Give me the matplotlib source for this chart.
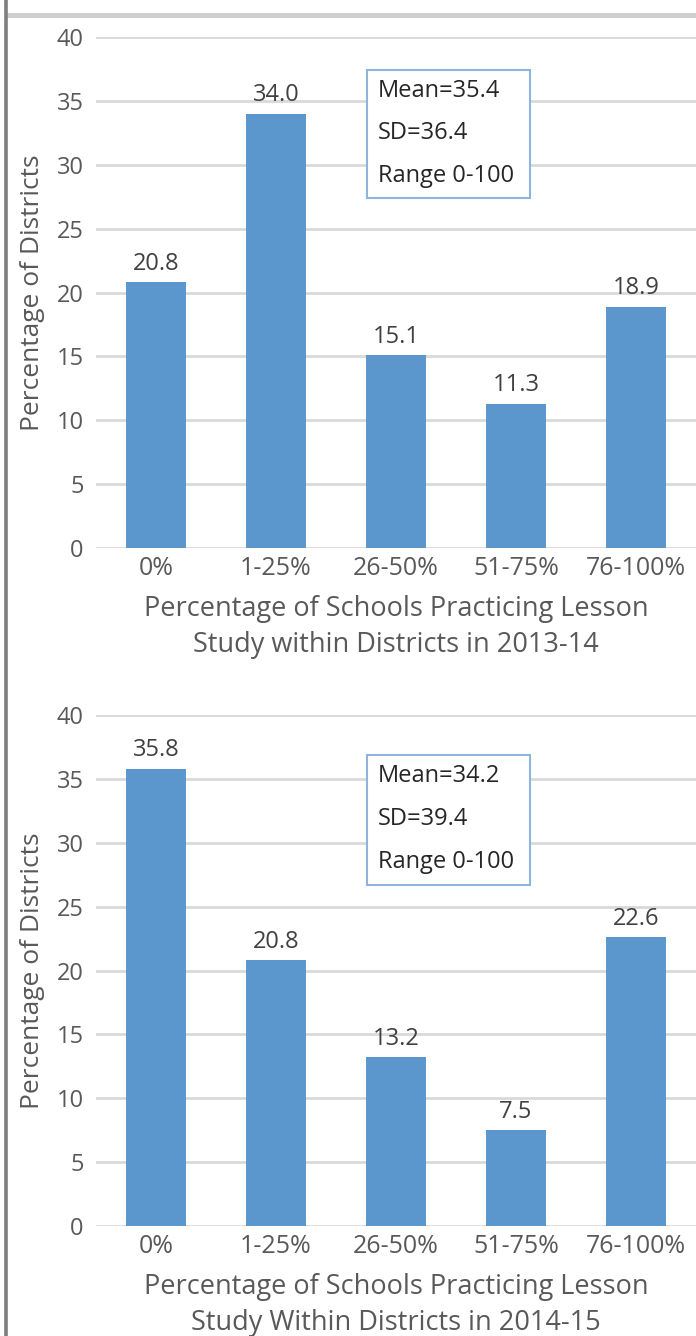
import matplotlib
matplotlib.use("Agg")
import matplotlib.pyplot as plt
from matplotlib.patches import Rectangle
from matplotlib.lines import Line2D

plt.rcParams['font.family'] = ['Open Sans', 'DejaVu Sans']

categories = ["0%", "1-25%", "26-50%", "51-75%", "76-100%"]
values_2013 = [20.8, 34.0, 15.1, 11.3, 18.9]
values_2014 = [35.8, 20.8, 13.2, 7.5, 22.6]
stats_2013 = ["Mean=35.4", "SD=36.4", "Range 0-100"]
stats_2014 = ["Mean=34.2", "SD=39.4", "Range 0-100"]
xlabel_2013 = "Percentage of Schools Practicing Lesson\nStudy within Districts in 2013-14"
xlabel_2014 = "Percentage of Schools Practicing Lesson\nStudy Within Districts in 2014-15"
y_ticks = [0, 5, 10, 15, 20, 25, 30, 35, 40]

W, H = 696, 1336
fig = plt.figure(figsize=(W / 100, H / 100), dpi=100)
fig.patch.set_facecolor("white")

BAR = "#5b97cd"
GRID = "#d9d9d9"
TXT = "#595959"

def panel(ax, values, stats, xlabel, box_top, box_bottom):
    x = range(len(categories))
    ax.set_xlim(-0.5, len(categories) - 0.5)
    ax.set_ylim(0, 40)
    ax.set_yticks(y_ticks)
    ax.yaxis.grid(True, color=GRID, linewidth=2)
    ax.set_axisbelow(True)
    for s in ax.spines.values():
        s.set_visible(False)
    ax.tick_params(length=0, labelsize=17, colors=TXT, pad=9)
    ax.tick_params(axis="x", labelsize=18, pad=6)
    ax.set_xticks(list(x))
    ax.set_xticklabels(categories)
    bars = ax.bar(list(x), values, width=0.5, color=BAR, zorder=2)
    for b, v in zip(bars, values):
        ax.text(b.get_x() + b.get_width() / 2, v + 0.5, f"{v:.1f}",
                ha="center", va="bottom", fontsize=17, color="#404040")
    ax.set_ylabel("Percentage of Districts", fontsize=19, color=TXT, labelpad=8)
    ax.set_xlabel(xlabel, fontsize=19.5, color=TXT, linespacing=1.35, labelpad=10)
    box = Rectangle((0.452, box_bottom), 0.271, box_top - box_bottom,
                    transform=ax.transAxes, facecolor="white",
                    edgecolor="#8fb4dd", linewidth=1.5, zorder=3)
    ax.add_patch(box)
    h = box_top - box_bottom
    for i, line in enumerate(stats):
        ax.text(0.47, box_top - h * (0.16 + 0.333 * i), line,
                transform=ax.transAxes, ha="left", va="center",
                fontsize=17, color="#262626", zorder=4)

left = 96 / W
width = 600 / W
hgt = 511 / H
ax1 = fig.add_axes([left, (H - 548) / H, width, hgt])
ax2 = fig.add_axes([left, (H - 1226) / H, width, hgt])

panel(ax1, values_2013, stats_2013, xlabel_2013, 0.935, 0.685)
panel(ax2, values_2014, stats_2014, xlabel_2014, 0.922, 0.667)

# page frame: gray rule along the top, dark rule along the left
fig.add_artist(Line2D([8 / W, 1], [(H - 14.5) / H] * 2, color="#cfcfcf",
                      linewidth=3.6, transform=fig.transFigure))
fig.add_artist(Line2D([6 / W] * 2, [0, 1], color="#7f7f7f",
                      linewidth=2.6, transform=fig.transFigure))

fig.savefig("out.png", dpi=100, facecolor="white")
